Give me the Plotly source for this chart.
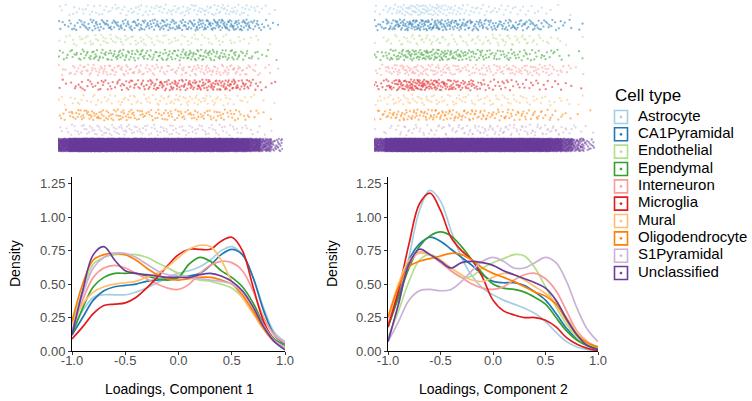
import numpy as np
import plotly.graph_objects as go

cell_types = ["Astrocyte", "CA1Pyramidal", "Endothelial", "Ependymal", "Interneuron",
              "Microglia", "Mural", "Oligodendrocyte", "S1Pyramidal", "Unclassified"]
colors = ["#A6CEE3", "#1F78B4", "#B2DF8A", "#33A02C", "#FB9A99",
          "#E31A1C", "#FDBF6F", "#FF7F00", "#CAB2D6", "#6A3D9A"]

loading_grid = [-1.0, -0.9, -0.8, -0.7, -0.6, -0.5, -0.4, -0.3, -0.2, -0.1, 0.0,
                0.1, 0.2, 0.3, 0.4, 0.5, 0.6, 0.7, 0.8, 0.9, 1.0]

# Component 1 densities
c1_astrocyte = [0.15, 0.30, 0.40, 0.42, 0.42, 0.42, 0.44, 0.47, 0.51, 0.55, 0.58, 0.60, 0.63, 0.68, 0.75, 0.78, 0.72, 0.55, 0.32, 0.14, 0.07]
c1_ca1 = [0.12, 0.25, 0.38, 0.45, 0.48, 0.49, 0.50, 0.52, 0.53, 0.54, 0.55, 0.56, 0.58, 0.64, 0.72, 0.76, 0.72, 0.55, 0.30, 0.12, 0.05]
c1_endothelial = [0.20, 0.45, 0.65, 0.70, 0.72, 0.72, 0.72, 0.70, 0.66, 0.62, 0.58, 0.55, 0.53, 0.52, 0.50, 0.47, 0.40, 0.30, 0.18, 0.08, 0.04]
c1_ependymal = [0.12, 0.32, 0.48, 0.55, 0.58, 0.58, 0.58, 0.56, 0.54, 0.53, 0.55, 0.65, 0.70, 0.67, 0.60, 0.55, 0.48, 0.36, 0.20, 0.09, 0.04]
c1_interneuron = [0.15, 0.38, 0.55, 0.62, 0.64, 0.62, 0.58, 0.54, 0.50, 0.47, 0.46, 0.50, 0.58, 0.64, 0.67, 0.66, 0.60, 0.45, 0.25, 0.12, 0.06]
c1_microglia = [0.09, 0.18, 0.28, 0.34, 0.35, 0.36, 0.40, 0.47, 0.55, 0.64, 0.72, 0.76, 0.76, 0.76, 0.82, 0.85, 0.75, 0.48, 0.22, 0.08, 0.03]
c1_mural = [0.20, 0.35, 0.44, 0.48, 0.50, 0.51, 0.52, 0.55, 0.58, 0.63, 0.70, 0.76, 0.79, 0.78, 0.68, 0.52, 0.40, 0.28, 0.16, 0.07, 0.03]
c1_oligodendrocyte = [0.22, 0.50, 0.68, 0.72, 0.73, 0.72, 0.68, 0.62, 0.57, 0.54, 0.53, 0.54, 0.55, 0.55, 0.53, 0.50, 0.42, 0.30, 0.17, 0.07, 0.03]
c1_s1 = [0.15, 0.42, 0.62, 0.70, 0.73, 0.73, 0.70, 0.65, 0.60, 0.57, 0.56, 0.55, 0.54, 0.53, 0.52, 0.50, 0.44, 0.33, 0.19, 0.08, 0.03]
c1_unclassified = [0.12, 0.45, 0.72, 0.78, 0.68, 0.60, 0.58, 0.57, 0.56, 0.55, 0.55, 0.55, 0.57, 0.58, 0.56, 0.52, 0.45, 0.33, 0.18, 0.07, 0.01]

# Component 2 densities
c2_astrocyte = [0.07, 0.35, 0.70, 1.05, 1.20, 1.12, 0.90, 0.70, 0.56, 0.47, 0.42, 0.38, 0.35, 0.32, 0.28, 0.22, 0.14, 0.07, 0.03, 0.01, 0.00]
c2_ca1 = [0.18, 0.42, 0.68, 0.80, 0.85, 0.82, 0.76, 0.70, 0.64, 0.57, 0.52, 0.51, 0.51, 0.49, 0.44, 0.38, 0.28, 0.17, 0.09, 0.04, 0.02]
c2_endothelial = [0.10, 0.30, 0.52, 0.68, 0.72, 0.68, 0.60, 0.55, 0.56, 0.62, 0.66, 0.69, 0.72, 0.71, 0.62, 0.48, 0.33, 0.20, 0.10, 0.04, 0.02]
c2_ependymal = [0.18, 0.40, 0.62, 0.78, 0.86, 0.89, 0.86, 0.78, 0.68, 0.58, 0.50, 0.47, 0.46, 0.44, 0.40, 0.35, 0.25, 0.15, 0.08, 0.04, 0.02]
c2_interneuron = [0.20, 0.45, 0.65, 0.74, 0.72, 0.66, 0.60, 0.55, 0.50, 0.47, 0.46, 0.48, 0.53, 0.57, 0.58, 0.54, 0.45, 0.30, 0.15, 0.07, 0.03]
c2_microglia = [0.18, 0.45, 0.80, 1.10, 1.18, 1.05, 0.85, 0.75, 0.68, 0.55, 0.38, 0.30, 0.27, 0.25, 0.25, 0.23, 0.18, 0.10, 0.05, 0.02, 0.00]
c2_mural = [0.25, 0.50, 0.68, 0.73, 0.72, 0.68, 0.62, 0.57, 0.53, 0.52, 0.55, 0.58, 0.57, 0.53, 0.48, 0.43, 0.36, 0.25, 0.14, 0.06, 0.03]
c2_oligodendrocyte = [0.25, 0.48, 0.63, 0.67, 0.69, 0.71, 0.73, 0.72, 0.68, 0.62, 0.58, 0.55, 0.52, 0.48, 0.44, 0.41, 0.35, 0.23, 0.12, 0.06, 0.03]
c2_s1 = [0.07, 0.22, 0.38, 0.45, 0.46, 0.45, 0.46, 0.52, 0.60, 0.67, 0.70, 0.67, 0.62, 0.62, 0.66, 0.70, 0.66, 0.52, 0.32, 0.16, 0.07]
c2_unclassified = [0.07, 0.35, 0.65, 0.76, 0.72, 0.67, 0.62, 0.66, 0.67, 0.66, 0.64, 0.60, 0.57, 0.54, 0.51, 0.47, 0.38, 0.24, 0.12, 0.04, 0.01]

# number of cells per type (strip rows)
cell_counts = [130, 260, 100, 200, 170, 210, 100, 170, 130, 6500]

x_ticks = [-1.0, -0.5, 0.0, 0.5, 1.0]
x_tick_labels = ["-1.0", "-0.5", "0.0", "0.5", "1.0"]
y_ticks = [0.0, 0.25, 0.5, 0.75, 1.0, 1.25]
y_tick_labels = ["0.00", "0.25", "0.50", "0.75", "1.00", "1.25"]

comp1 = [c1_astrocyte, c1_ca1, c1_endothelial, c1_ependymal, c1_interneuron,
         c1_microglia, c1_mural, c1_oligodendrocyte, c1_s1, c1_unclassified]
comp2 = [c2_astrocyte, c2_ca1, c2_endothelial, c2_ependymal, c2_interneuron,
         c2_microglia, c2_mural, c2_oligodendrocyte, c2_s1, c2_unclassified]

W, H = 752, 401
def px(a, b):
    return [a / W, b / W]
def py(top, bottom):
    return [(H - bottom) / H, (H - top) / H]

FONT = "Liberation Sans, Arial, sans-serif"
fig = go.Figure()

grid = np.array(loading_grid)

def halton(n, base, start):
    out = np.zeros(n)
    for j in range(n):
        i = j + start
        f, r = 1.0, 0.0
        while i > 0:
            f /= base
            r += f * (i % base)
            i //= base
        out[j] = r
    return out

def strip_points(dens, n, k):
    # place n cells along the loading axis following the density's cumulative distribution
    d = np.array(dens)
    cdf = np.concatenate([[0.0], np.cumsum((d[1:] + d[:-1]) / 2.0)])
    cdf = cdf / cdf[-1]
    u = halton(n, 2, 17 + 37 * k)
    xs = np.interp(u, cdf, grid)
    v = halton(n, 3, 11 + 53 * k)
    return xs, v

for panel, comp in enumerate([comp1, comp2]):
    xa = "x" if panel == 0 else "x2"
    ya = "y" if panel == 0 else "y2"
    xs_a = "x3" if panel == 0 else "x4"
    ys_a = "y3" if panel == 0 else "y4"
    for k, (ct, col, n) in enumerate(zip(cell_types, colors, cell_counts)):
        xs, v = strip_points(comp[k], n, k + 3 * panel)
        row = len(cell_types) - k
        spread = 0.85 if ct == "Unclassified" else 0.72
        fig.add_trace(go.Scatter(
            x=xs, y=row + (v - 0.5) * spread, mode="markers",
            marker=dict(size=2.3, color=col, opacity=0.55, line=dict(width=0)),
            xaxis=xs_a, yaxis=ys_a, showlegend=False, hoverinfo="skip"))
    for k, (ct, col) in enumerate(zip(cell_types, colors)):
        fig.add_trace(go.Scatter(
            x=loading_grid, y=comp[k], mode="lines",
            line=dict(color=col, width=1.7, shape="spline", smoothing=1.0),
            xaxis=xa, yaxis=ya, showlegend=False, name=ct))

# legend keys drawn as a small categorical panel (axis in pixel units)
rows = list(range(len(cell_types)))
fig.add_trace(go.Scatter(
    x=[21] * len(cell_types), y=rows, mode="markers",
    marker=dict(symbol="square-open-dot", size=13, color=colors,
                line=dict(width=1.6, color=colors)),
    xaxis="x5", yaxis="y5", showlegend=False, hoverinfo="skip"))
fig.add_trace(go.Scatter(
    x=[38] * len(cell_types), y=rows, mode="text", text=cell_types,
    textposition="middle right",
    textfont=dict(family=FONT, size=15, color="#000000"),
    xaxis="x5", yaxis="y5", showlegend=False, hoverinfo="skip", cliponaxis=False))

axis_common = dict(showline=True, linecolor="#000000", linewidth=1, ticks="outside",
                   ticklen=3, tickcolor="#333333", showgrid=False, zeroline=False,
                   tickfont=dict(family=FONT, size=13, color="#4D4D4D"), automargin=False)

hidden = dict(visible=False, showgrid=False, zeroline=False, automargin=False)

fig.update_layout(
    width=W, height=H, margin=dict(l=0, r=0, t=0, b=0),
    paper_bgcolor="white", plot_bgcolor="white", template="none",
    showlegend=False,
    xaxis=dict(domain=px(72, 285), range=[-1, 1], tickvals=x_ticks, ticktext=x_tick_labels,
               anchor="y", ticklabelstandoff=-6, **axis_common),
    yaxis=dict(domain=py(177, 351), range=[0, 1.30], tickvals=y_ticks, ticktext=y_tick_labels,
               anchor="x", **axis_common),
    xaxis2=dict(domain=px(388, 598), range=[-1, 1], tickvals=x_ticks, ticktext=x_tick_labels,
                anchor="y2", ticklabelstandoff=-6, **axis_common),
    yaxis2=dict(domain=py(177, 351), range=[0, 1.30], tickvals=y_ticks, ticktext=y_tick_labels,
                anchor="x2", **axis_common),
    xaxis3=dict(domain=px(58, 283), range=[-1.0, 1.0], anchor="y3", **hidden),
    yaxis3=dict(domain=py(1, 154), range=[0.4, 10.6], anchor="x3", **hidden),
    xaxis4=dict(domain=px(374, 595), range=[-1.0, 1.0], anchor="y4", **hidden),
    yaxis4=dict(domain=py(1, 154), range=[0.4, 10.6], anchor="x4", **hidden),
    xaxis5=dict(domain=px(600, 752), range=[0, 152], anchor="y5", **hidden),
    yaxis5=dict(domain=py(108.3, 281.7), range=[9.5, -0.5], anchor="x5", **hidden),
    annotations=[
        dict(text="Density", x=15 / W, y=(H - 264) / H, xref="paper", yref="paper",
             xanchor="center", yanchor="middle",
             textangle=-90, showarrow=False, font=dict(family=FONT, size=14, color="#000")),
        dict(text="Density", x=332 / W, y=(H - 264) / H, xref="paper", yref="paper",
             xanchor="center", yanchor="middle",
             textangle=-90, showarrow=False, font=dict(family=FONT, size=14, color="#000")),
        dict(text="Loadings, Component 1", x=179 / W, y=(H - 389) / H, xref="paper", yref="paper",
             xanchor="center", yanchor="middle",
             showarrow=False, font=dict(family=FONT, size=14, color="#000")),
        dict(text="Loadings, Component 2", x=493 / W, y=(H - 389) / H, xref="paper", yref="paper",
             xanchor="center", yanchor="middle",
             showarrow=False, font=dict(family=FONT, size=14, color="#000")),
        dict(text="Cell type", x=613 / W, y=(H - 95) / H, xref="paper", yref="paper",
             xanchor="left", yanchor="middle",
             showarrow=False, font=dict(family=FONT, size=17, color="#000")),
    ],
)

fig.write_html("out.html", config={"displayModeBar": False},
               post_script="document.body.style.margin='0';document.body.style.overflow='hidden';")
